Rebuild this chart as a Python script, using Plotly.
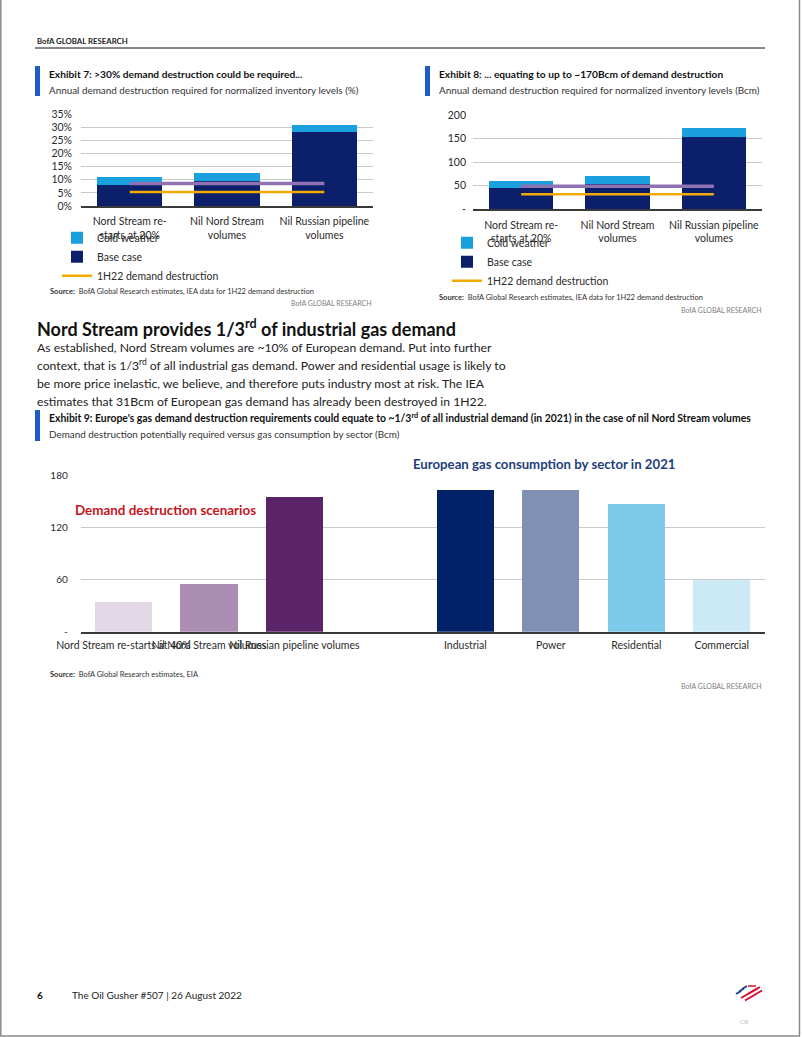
import plotly.graph_objects as go

W, H = 802, 1037
FONT = "Lato"

# ---------------- data ----------------
ex_categories = ["Nord Stream re-<br>starts at 20%", "Nil Nord Stream<br>volumes", "Nil Russian pipeline<br>volumes"]
# Exhibit 7 (% of demand)
ex7_base = [7.9, 9.6, 28.0]
ex7_cold = [3.0, 3.1, 2.9]
ex7_1h22 = [5.3, 5.3, 5.3]
ex7_purple = [8.6, 8.6, 8.6]
# Exhibit 8 (Bcm)
ex8_base = [44.5, 54.0, 154.0]
ex8_cold = [16.0, 17.0, 17.5]
ex8_1h22 = [32.0, 32.0, 32.0]
ex8_purple = [49.0, 49.0, 49.0]
# Exhibit 9 (Bcm)
scenario_labels = ["Nord Stream re-starts at 40%", "Nil Nord Stream volumes", "Nil Russian pipeline volumes"]
scenario_values = [34, 55, 155]
sector_labels = ["Industrial", "Power", "Residential", "Commercial"]
sector_values = [164, 164, 147, 60]

ex7_ticks = [0, 5, 10, 15, 20, 25, 30, 35]
ex7_ticktext = ["0%", "5%", "10%", "15%", "20%", "25%", "30%", "35%"]
ex8_ticks = [0, 50, 100, 150, 200]
ex8_ticktext = ["-", "50", "100", "150", "200"]
ex9_ticks = [0, 60, 120, 180]
ex9_ticktext = ["-", "60", "120", "180"]

# ---------------- colours ----------------
C_COLD = "#1AA0DE"
C_BASE = "#0C1F6A"
C_ORANGE = "#F2A900"
C_PURPLE = "#8E72B3"
SCEN_COLORS = ["#E3D8E6", "#AC8DB3", "#5C2468"]
SECT_COLORS = ["#012169", "#8090B5", "#7DCAEA", "#CCE9F6"]
GRID = "#C9C9C9"
AXIS = "#3A3A3A"
TXT = "#2A2A2A"
ACCENT = "#1F5BC9"


def px(x):
    return x / W


def py(y):
    return 1 - y / H


fig = go.Figure()

# Exhibit 7
fig.add_trace(go.Bar(x=ex_categories, y=ex7_base, name="Base case", marker=dict(color=C_BASE, line=dict(width=0)),
                     xaxis="x", yaxis="y", legend="legend", legendrank=2))
fig.add_trace(go.Bar(x=ex_categories, y=ex7_cold, name="Cold weather", marker=dict(color=C_COLD, line=dict(width=0)),
                     xaxis="x", yaxis="y", legend="legend", legendrank=1))
fig.add_trace(go.Scatter(x=ex_categories, y=ex7_purple, mode="lines", line=dict(color=C_PURPLE, width=3.5),
                         showlegend=False, xaxis="x", yaxis="y"))
fig.add_trace(go.Scatter(x=ex_categories, y=ex7_1h22, mode="lines", name="1H22 demand destruction",
                         line=dict(color=C_ORANGE, width=2.5), xaxis="x", yaxis="y", legend="legend", legendrank=3))

# Exhibit 8
fig.add_trace(go.Bar(x=ex_categories, y=ex8_base, name="Base case", marker=dict(color=C_BASE, line=dict(width=0)),
                     xaxis="x2", yaxis="y2", legend="legend2", legendrank=2))
fig.add_trace(go.Bar(x=ex_categories, y=ex8_cold, name="Cold weather", marker=dict(color=C_COLD, line=dict(width=0)),
                     xaxis="x2", yaxis="y2", legend="legend2", legendrank=1))
fig.add_trace(go.Scatter(x=ex_categories, y=ex8_purple, mode="lines", line=dict(color=C_PURPLE, width=3.5),
                         showlegend=False, xaxis="x2", yaxis="y2"))
fig.add_trace(go.Scatter(x=ex_categories, y=ex8_1h22, mode="lines", name="1H22 demand destruction",
                         line=dict(color=C_ORANGE, width=2.5), xaxis="x2", yaxis="y2", legend="legend2", legendrank=3))

# Exhibit 9
fig.add_trace(go.Bar(x=scenario_labels + [" "], y=scenario_values + [None],
                     marker=dict(color=SCEN_COLORS + ["#FFFFFF"], line=dict(width=0)),
                     showlegend=False, xaxis="x3", yaxis="y3"))
fig.add_trace(go.Bar(x=sector_labels, y=sector_values, marker=dict(color=SECT_COLORS, line=dict(width=0)),
                     showlegend=False, xaxis="x3", yaxis="y3"))

tickfont = dict(family=FONT, size=10.5, color=TXT)

common_x = dict(type="category", showgrid=False, showline=True, linecolor=AXIS, linewidth=1.5,
                ticks="", tickfont=tickfont, tickangle=0, fixedrange=True, automargin=False)
common_y = dict(showgrid=True, gridcolor=GRID, gridwidth=1.2, zeroline=False, showline=False,
                ticks="", fixedrange=True, automargin=False)

layout = dict(
    width=W, height=H, margin=dict(l=0, r=0, t=0, b=0, pad=0, autoexpand=False),
    paper_bgcolor="white", plot_bgcolor="white",
    barmode="stack", bargap=0.33,
    font=dict(family=FONT, color=TXT),
    xaxis=dict(domain=[px(81), px(373)], anchor="y", ticklabelstandoff=5, **common_x),
    yaxis=dict(domain=[py(206), py(114)], anchor="x", range=[0, 35], tickvals=ex7_ticks, ticktext=ex7_ticktext,
               ticklabelstandoff=8, tickfont=dict(family=FONT, size=10.5, color=TXT), **common_y),
    xaxis2=dict(domain=[px(473), px(762)], anchor="y2", ticklabelstandoff=5, **common_x),
    yaxis2=dict(domain=[py(209.3), py(115)], anchor="x2", range=[0, 200], tickvals=ex8_ticks, ticktext=ex8_ticktext,
                ticklabelstandoff=6, tickfont=dict(family=FONT, size=10.5, color=TXT), **common_y),
    xaxis3=dict(domain=[px(80.75), px(764.5)], anchor="y3", ticklabelstandoff=3,
                categoryorder="array", categoryarray=scenario_labels + [" "] + sector_labels, **common_x),
    yaxis3=dict(domain=[py(631.7), py(475.7)], anchor="x3", range=[0, 180], tickvals=ex9_ticks, ticktext=ex9_ticktext,
                ticklabelstandoff=12, tickfont=dict(family=FONT, size=10, color=TXT), **common_y),
    legend=dict(x=px(57), y=py(256.7), xanchor="left", yanchor="middle", traceorder="normal",
                font=dict(family=FONT, size=10.5, color=TXT), bgcolor="rgba(0,0,0,0)", itemclick=False),
    legend2=dict(x=px(447), y=py(261.7), xanchor="left", yanchor="middle", traceorder="normal",
                 font=dict(family=FONT, size=10.5, color=TXT), bgcolor="rgba(0,0,0,0)", itemclick=False),
    showlegend=True,
)
fig.update_layout(**layout)


def txt(x, y, s, size, color=TXT, xanchor="left"):
    return dict(xref="paper", yref="paper", x=px(x), y=py(y), text=s, showarrow=False,
                xanchor=xanchor, yanchor="middle", align="left",
                font=dict(family=FONT, size=size, color=color))


GRAY = "#7F7F7F"
ann = [
    txt(35, 41, "<b>BofA GLOBAL RESEARCH</b>", 7.8, "#222"),
    # Exhibit 7
    txt(47, 74, "<b>Exhibit 7: &gt;30% demand destruction could be required...</b>", 10.2, "#111"),
    txt(47, 89.5, "Annual demand destruction required for normalized inventory levels (%)", 9.9, "#333"),
    txt(48, 291.5, "<b>Source:</b>  BofA Global Research estimates, IEA data for 1H22 demand destruction", 7.5, "#333"),
    txt(374, 303, "BofA GLOBAL RESEARCH", 7, GRAY, xanchor="right"),
    # Exhibit 8
    txt(437, 74, "<b>Exhibit 8: ... equating to up to ~170Bcm of demand destruction</b>", 10.2, "#111"),
    txt(437, 89.5, "Annual demand destruction required for normalized inventory levels (Bcm)", 9.9, "#333"),
    txt(437, 297.5, "<b>Source:</b>  BofA Global Research estimates, IEA data for 1H22 demand destruction", 7.5, "#333"),
    txt(764, 310, "BofA GLOBAL RESEARCH", 7, GRAY, xanchor="right"),
    # Section text
    txt(35, 327.5, "<b>Nord Stream provides 1/3<sup>rd</sup> of industrial gas demand</b>", 18, "#111"),
    txt(35, 347.5, "As established, Nord Stream volumes are ~10% of European demand. Put into further", 12.2, "#222"),
    txt(35, 364.5, "context, that is 1/3<sup>rd</sup> of all industrial gas demand. Power and residential usage is likely to", 12.2, "#222"),
    txt(35, 383.5, "be more price inelastic, we believe, and therefore puts industry most at risk. The IEA", 12.2, "#222"),
    txt(35, 401.5, "estimates that 31Bcm of European gas demand has already been destroyed in 1H22.", 12.2, "#222"),
    # Exhibit 9
    txt(47, 418, "<b>Exhibit 9: Europe's gas demand destruction requirements could equate to ~1/3<sup>rd</sup> of all industrial demand (in 2021) in the case of nil Nord Stream volumes</b>", 10.4, "#111"),
    txt(47, 433.5, "Demand destruction potentially required versus gas consumption by sector (Bcm)", 9.9, "#333"),
    txt(72.5, 510, "<b>Demand destruction scenarios</b>", 13.4, "#C4161C"),
    txt(410.5, 464, "<b>European gas consumption by sector in 2021</b>", 13.2, "#1F3E7C"),
    txt(48, 674.5, "<b>Source:</b>  BofA Global Research estimates, EIA", 7.5, "#333"),
    txt(764, 686, "BofA GLOBAL RESEARCH", 7, GRAY, xanchor="right"),
    # Footer
    txt(35, 994.5, "<b>6</b>", 10, "#111"),
    txt(70, 994.5, "The Oil Gusher #507 | 26 August 2022", 10, "#222"),
    txt(738, 1021, "CR", 6.5, "#BBBBBB"),
]
fig.update_layout(annotations=ann)


def line(x0, y0, x1, y1, color, width):
    return dict(type="line", xref="paper", yref="paper", x0=px(x0), y0=py(y0), x1=px(x1), y1=py(y1),
                line=dict(color=color, width=width))


def rect(x0, y0, x1, y1, color):
    return dict(type="rect", xref="paper", yref="paper", x0=px(x0), y0=py(y0), x1=px(x1), y1=py(y1),
                fillcolor=color, line=dict(width=0))


shapes = [
    line(35, 48, 765, 48, "#111", 1),
    rect(35, 66, 40, 96, ACCENT),
    rect(425, 66, 430, 96, ACCENT),
    rect(35, 410, 40, 441, ACCENT),
    # page border
    line(0.8, 0, 0.8, 1036, "#8A8A8A", 1.5),
    line(799.5, 0, 799.5, 1036, "#8A8A8A", 1.5),
    line(0, 1036, 800, 1036, "#8A8A8A", 1.5),
    # logo (flag stripes)
    line(736, 994, 741, 991, "#1F3E8C", 2),
    line(739, 991.5, 744, 988.5, "#1F3E8C", 2),
    line(742, 989, 747, 986, "#1F3E8C", 2),
    line(741, 998, 758, 988, "#D5102E", 2),
    line(745, 1000.5, 762, 990.5, "#D5102E", 2),
    line(748, 994, 760, 987, "#D5102E", 2),
    line(748, 986, 756, 986, "#D5102E", 1.5),
]
fig.update_layout(shapes=shapes)

fig.write_html("out.html", config={"displayModeBar": False},
               post_script="document.body.style.margin='0';document.body.style.overflow='hidden';")
